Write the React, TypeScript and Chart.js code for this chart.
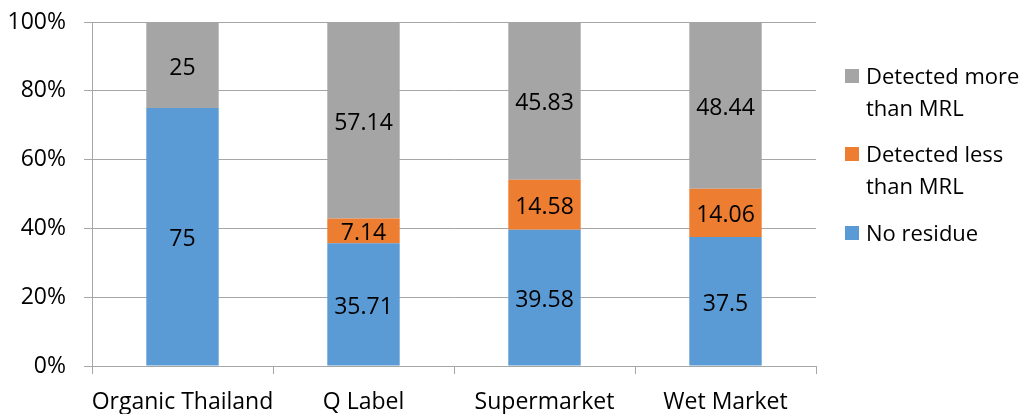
import React, { useEffect, useRef } from 'react';
import { Chart, registerables } from 'chart.js';
Chart.register(...registerables);

const categories = ['Organic Thailand', 'Q Label', 'Supermarket', 'Wet Market'];
const noResidue = [75, 35.71, 39.58, 37.5];
const detectedLess = [0, 7.14, 14.58, 14.06];
const detectedMore = [25, 57.14, 45.83, 48.44];
const seriesNames = ['No residue', 'Detected less than MRL', 'Detected more than MRL'];
const seriesColors = ['#5B9BD5', '#ED7D31', '#A5A5A5'];
const legendLines = [['No residue'], ['Detected less', 'than MRL'], ['Detected more', 'than MRL']];
const yMin = 0;
const yMax = 100;
const yStep = 20;

const FONT = '"Open Sans", sans-serif';
const FONT_SIZE = 23;
const AXIS_COLOR = '#A6A6A6';

const dataLabelPlugin = {
  id: 'dataLabels',
  afterDatasetsDraw(chart: any) {
    const ctx = chart.ctx;
    ctx.save();
    ctx.font = `${FONT_SIZE}px ${FONT}`;
    ctx.fillStyle = '#000';
    ctx.textAlign = 'center';
    ctx.textBaseline = 'middle';
    chart.data.datasets.forEach((ds: any, di: number) => {
      const meta = chart.getDatasetMeta(di);
      meta.data.forEach((bar: any, i: number) => {
        const v = ds.data[i];
        if (!v) return;
        const cy = (bar.y + bar.base) / 2;
        ctx.fillText(String(v), bar.x, cy + 3);
      });
    });
    ctx.restore();
  },
};

const legendPlugin = {
  id: 'customLegend',
  afterDraw(chart: any) {
    const ctx = chart.ctx;
    ctx.save();
    ctx.font = `${FONT_SIZE - 1}px ${FONT}`;
    ctx.textAlign = 'left';
    ctx.textBaseline = 'alphabetic';
    const x = 845;
    const tops = [69, 147, 226];
    const order = [2, 1, 0];
    order.forEach((di, k) => {
      const top = tops[k];
      ctx.fillStyle = seriesColors[di];
      ctx.fillRect(x, top, 14, 14);
      ctx.fillStyle = '#000';
      legendLines[di].forEach((line, li) => {
        ctx.fillText(line, x + 21, top + 15 + li * 32);
      });
    });
    ctx.restore();
  },
};

export default function App() {
  const ref = useRef<HTMLCanvasElement>(null);
  useEffect(() => {
    if (!ref.current) return;
    const chart = new Chart(ref.current, {
      type: 'bar',
      data: {
        labels: categories,
        datasets: [
          { label: seriesNames[0], data: noResidue, backgroundColor: seriesColors[0] },
          { label: seriesNames[1], data: detectedLess, backgroundColor: seriesColors[1] },
          { label: seriesNames[2], data: detectedMore, backgroundColor: seriesColors[2] },
        ],
      },
      options: {
        responsive: false,
        animation: false,
        layout: { padding: { left: 0, top: 22, right: 217, bottom: 0 } },
        datasets: { bar: { barPercentage: 0.4, categoryPercentage: 1 } },
        plugins: { legend: { display: false }, tooltip: { enabled: false } },
        scales: {
          x: {
            stacked: true,
            grid: {
              drawOnChartArea: false,
              drawTicks: true,
              tickLength: 8,
              offset: true,
              color: AXIS_COLOR,
            },
            border: { color: AXIS_COLOR, width: 1 },
            ticks: { color: '#000', font: { family: FONT, size: FONT_SIZE }, padding: 15, maxRotation: 0, autoSkip: false },
            afterFit: (s: any) => { s.height = 48; s.paddingLeft = 0; s.paddingRight = 0; },
          },
          y: {
            stacked: true,
            min: yMin,
            max: yMax,
            grid: { color: AXIS_COLOR, tickLength: 8 },
            border: { color: AXIS_COLOR, width: 1 },
            ticks: {
              stepSize: yStep,
              color: '#000',
              font: { family: FONT, size: FONT_SIZE },
              padding: 18,
              callback: (v: any) => `${v}%`,
            },
            afterFit: (s: any) => { s.width = 92; s.paddingTop = 0; s.paddingBottom = 0; },
          },
        },
      },
      plugins: [dataLabelPlugin, legendPlugin],
    });
    return () => chart.destroy();
  }, []);
  return (
    <div style={{ position: 'fixed', left: 0, top: 0, width: 1033, height: 414, background: '#fff' }}>
      <canvas ref={ref} width={1033} height={414} />
    </div>
  );
}
